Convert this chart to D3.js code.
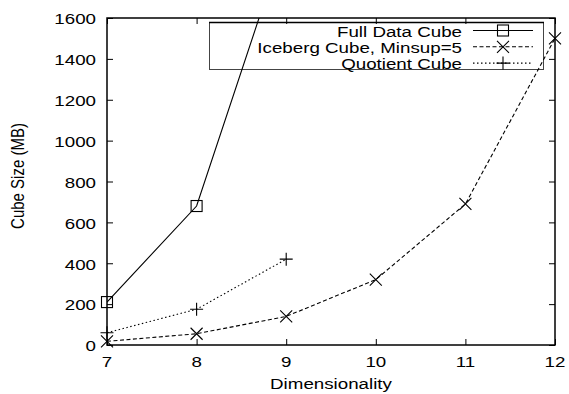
<!DOCTYPE html>
<html>
<head>
<meta charset="utf-8">
<script src="https://cdn.jsdelivr.net/npm/d3@7"></script>
<style>
  body { margin: 0; background: #fff; }
  text { font-family: "Liberation Sans", Arial, sans-serif; fill: #000; }
</style>
</head>
<body>
<div id="chart"></div>
<script>
  const width = 569;
  const height = 394;

  // ===== Dados =====
  const dims = [7, 8, 9, 10, 11, 12];
  const fullCube = [210, 680, 2000];
  const icebergCube = [18, 55, 140, 320, 690, 1500];
  const quotientCube = [60, 175, 420];
  const yTicks = [0, 200, 400, 600, 800, 1000, 1200, 1400, 1600];
  const seriesNames = ["Full Data Cube", "Iceberg Cube, Minsup=5", "Quotient Cube"];

  const series = [
    { name: seriesNames[0], values: fullCube, dash: null, marker: "square" },
    { name: seriesNames[1], values: icebergCube, dash: "4,2.5", marker: "cross" },
    { name: seriesNames[2], values: quotientCube, dash: "1.5,2.5", marker: "plus" },
  ];

  const margin = { top: 18, right: 14, bottom: 49, left: 107 };
  const x = d3.scaleLinear().domain([7, 12]).range([margin.left, width - margin.right]);
  const y = d3.scaleLinear().domain([0, 1600]).range([height - margin.bottom, margin.top]);

  // texto esticado na horizontal (como no original)
  const stretch = 1.25;
  const fontSize = 15;

  const svg = d3.select("#chart").append("svg")
    .attr("width", width)
    .attr("height", height);

  function label(px, py, str, anchor, rotate) {
    return svg.append("text")
      .attr("transform", `translate(${px},${py}) scale(${stretch},1)` + (rotate ? " rotate(-90)" : ""))
      .attr("text-anchor", anchor)
      .attr("dy", "0.35em")
      .attr("font-size", fontSize)
      .text(str);
  }

  svg.append("defs").append("clipPath").attr("id", "plot-clip")
    .append("rect")
    .attr("x", margin.left).attr("y", margin.top)
    .attr("width", width - margin.right - margin.left)
    .attr("height", height - margin.bottom - margin.top);

  // eixos (ticks para dentro, espelhados)
  const tickLen = 6;
  svg.append("g")
    .attr("transform", `translate(0,${y(0)})`)
    .call(d3.axisBottom(x).tickValues(dims).tickSize(-tickLen).tickFormat(""))
    .call(g => g.select(".domain").remove());
  svg.append("g")
    .attr("transform", `translate(0,${y(1600)})`)
    .call(d3.axisTop(x).tickValues(dims).tickSize(-tickLen).tickFormat(""))
    .call(g => g.select(".domain").remove());
  svg.append("g")
    .attr("transform", `translate(${x(7)},0)`)
    .call(d3.axisLeft(y).tickValues(yTicks).tickSize(-tickLen).tickFormat(""))
    .call(g => g.select(".domain").remove());
  svg.append("g")
    .attr("transform", `translate(${x(12)},0)`)
    .call(d3.axisRight(y).tickValues(yTicks).tickSize(-tickLen).tickFormat(""))
    .call(g => g.select(".domain").remove());

  svg.selectAll(".tick line").attr("stroke", "#000").attr("stroke-width", 1);

  // rótulos dos ticks
  dims.forEach(d => label(x(d), y(0) + 17, d3.format("d")(d), "middle"));
  yTicks.forEach(v => label(x(7) - 11, y(v) + 1, d3.format("d")(v), "end"));

  // legenda (desenhada antes da moldura)
  const legend = svg.append("g");
  legend.append("rect")
    .attr("x", 209.5).attr("y", 22.5)
    .attr("width", 334).attr("height", 47)
    .attr("fill", "none").attr("stroke", "#444").attr("stroke-width", 1);
  legend.append("line")
    .attr("x1", 209).attr("x2", 544).attr("y1", 22.5).attr("y2", 22.5)
    .attr("stroke", "#000").attr("stroke-width", 1.5);

  svg.append("rect")
    .attr("x", x(7)).attr("y", y(1600))
    .attr("width", x(12) - x(7)).attr("height", y(0) - y(1600))
    .attr("fill", "none").attr("stroke", "#000").attr("stroke-width", 1.5);

  function drawMarker(g, type, cx, cy) {
    if (type === "square") {
      g.append("rect").attr("x", cx - 5.5).attr("y", cy - 5.5).attr("width", 11).attr("height", 11)
        .attr("fill", "none").attr("stroke", "#000").attr("stroke-width", 1.1);
    } else if (type === "cross") {
      const s = 6;
      g.append("path").attr("d", `M${cx - s},${cy - s}L${cx + s},${cy + s}M${cx - s},${cy + s}L${cx + s},${cy - s}`)
        .attr("stroke", "#000").attr("stroke-width", 1.1);
    } else {
      const s = 6.5;
      g.append("path").attr("d", `M${cx - s},${cy}L${cx + s},${cy}M${cx},${cy - s}L${cx},${cy + s}`)
        .attr("stroke", "#000").attr("stroke-width", 1.1);
    }
  }

  const line = d3.line().x((d, i) => x(dims[i])).y(d => y(d));
  const plot = svg.append("g").attr("clip-path", "url(#plot-clip)");

  series.forEach(s => {
    plot.append("path")
      .datum(s.values)
      .attr("d", line)
      .attr("fill", "none")
      .attr("stroke", "#000")
      .attr("stroke-width", 1.1)
      .attr("stroke-dasharray", s.dash);
  });

  const markers = svg.append("g");
  series.forEach(s => {
    s.values.forEach((v, i) => {
      if (v <= 1600) drawMarker(markers, s.marker, x(dims[i]), y(v));
    });
  });

  // itens da legenda
  series.forEach((s, i) => {
    const ly = 30.5 + i * 16.3;
    label(462, ly + 1, s.name, "end");
    legend.append("line")
      .attr("x1", 473).attr("x2", 533).attr("y1", ly).attr("y2", ly)
      .attr("stroke", "#000").attr("stroke-width", 1.1)
      .attr("stroke-dasharray", s.dash);
    drawMarker(legend, s.marker, 503, ly);
  });

  // títulos dos eixos
  label((x(7) + x(12)) / 2, 384, "Dimensionality", "middle");
  label(17, 176, "Cube Size (MB)", "middle", true);
</script>
</body>
</html>
